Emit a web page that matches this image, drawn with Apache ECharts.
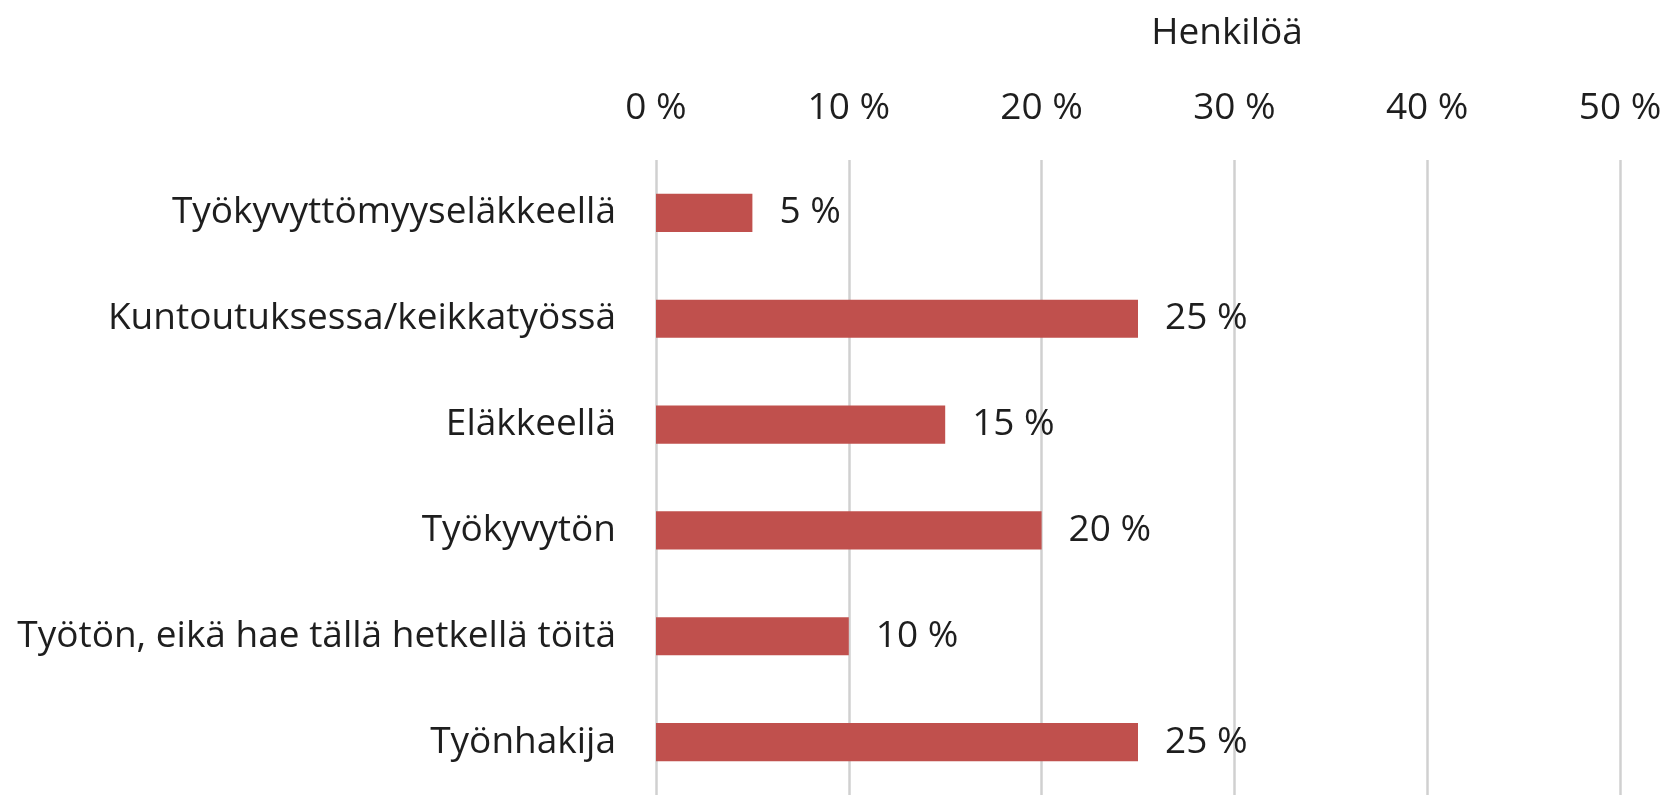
<!DOCTYPE html>
<html>
<head>
<meta charset="utf-8">
<script src="https://cdn.jsdelivr.net/npm/echarts@6/dist/echarts.min.js"></script>
<style>
  html, body { margin: 0; padding: 0; background: #ffffff; }
  #chart { width: 1667px; height: 795px; }
</style>
</head>
<body>
<div id="chart"></div>
<script>
// kategoriat ylhäältä alas
var categories = [
  'Työkyvyttömyyseläkkeellä',
  'Kuntoutuksessa/keikkatyössä',
  'Eläkkeellä',
  'Työkyvytön',
  'Työtön, eikä hae tällä hetkellä töitä',
  'Työnhakija'
];
var values = [5, 25, 15, 20, 10, 25];
var tickValues = [0, 10, 20, 30, 40, 50];

var FONT = '"Open Sans", sans-serif';

var chart = echarts.init(document.getElementById('chart'));
var option = {
  backgroundColor: '#ffffff',
  animation: false,
  title: {
    text: 'Henkilöä',
    left: 1222,
    top: 10,
    textAlign: 'center',
    textStyle: { fontFamily: FONT, fontSize: 37, fontWeight: 'normal', color: '#1e1e1e' }
  },
  grid: {
    left: 656,
    right: 47,
    top: 160,
    bottom: -22,
    containLabel: false
  },
  xAxis: {
    type: 'value',
    position: 'top',
    min: tickValues[0],
    max: tickValues[tickValues.length - 1],
    interval: 10,
    axisLine: { show: false },
    axisTick: { show: false },
    axisLabel: {
      margin: 33,
      fontFamily: FONT,
      fontSize: 37,
      color: '#1e1e1e',
      formatter: function (v) { return v + ' %'; }
    },
    splitLine: {
      lineStyle: { color: '#d0d0d0', width: 2.5, type: 'solid' }
    }
  },
  yAxis: {
    type: 'category',
    data: categories,
    inverse: true,
    axisLine: { show: false },
    axisTick: { show: false },
    axisLabel: {
      margin: 40,
      fontFamily: FONT,
      fontSize: 37,
      color: '#1e1e1e'
    }
  },
  series: [{
    type: 'bar',
    data: values,
    barWidth: '36%',
    itemStyle: { color: '#c0504d' },
    label: {
      show: true,
      position: 'right',
      distance: 27,
      fontFamily: FONT,
      fontSize: 37,
      color: '#1e1e1e',
      formatter: function (p) { return p.value + ' %'; }
    }
  }]
};
chart.setOption(option);
</script>
</body>
</html>
